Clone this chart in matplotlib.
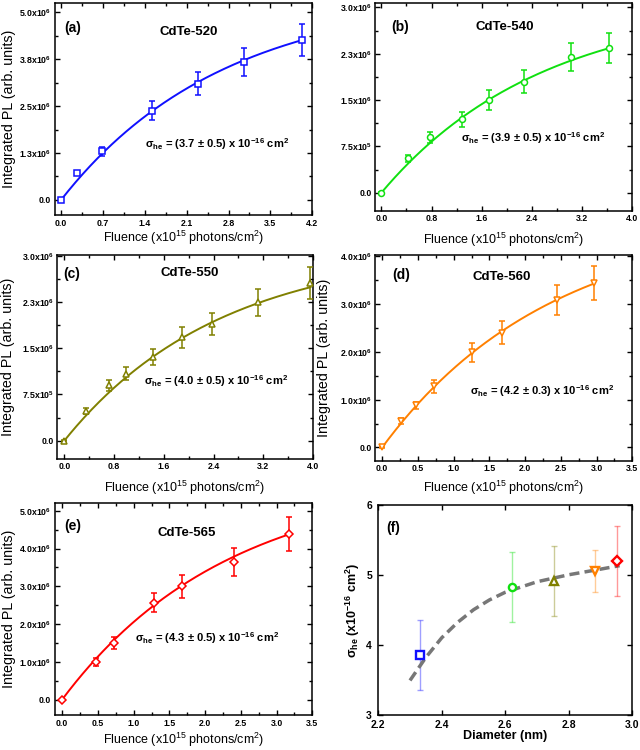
import matplotlib
matplotlib.use("Agg")
import matplotlib.pyplot as plt
import numpy as np
from matplotlib.ticker import AutoMinorLocator

plt.rcParams["font.family"] = ["Liberation Sans", "DejaVu Sans"]
plt.rcParams["mathtext.default"] = "regular"

BLUE, GREEN, OLIVE, ORANGE, RED = "#1010ff", "#10e010", "#808000", "#ff8000", "#ff0000"

# ── data (PL in units of 1e6, fluence in 1e15 photons/cm^2) ──
a_flu = [0, 0.27, 0.69, 1.52, 2.29, 3.06, 4.02]
a_pl = [0, 0.73, 1.29, 2.38, 3.09, 3.68, 4.25]
a_err = [0.02, 0.05, 0.13, 0.25, 0.31, 0.37, 0.43]

b_flu = [0, 0.43, 0.78, 1.29, 1.72, 2.27, 3.03, 3.63]
b_pl = [0, 0.556, 0.896, 1.19, 1.50, 1.80, 2.20, 2.34]
b_err = [0.01, 0.05, 0.09, 0.12, 0.16, 0.18, 0.23, 0.24]

c_flu = [0, 0.34, 0.72, 0.99, 1.42, 1.90, 2.37, 3.11, 3.96]
c_pl = [0, 0.487, 0.903, 1.09, 1.36, 1.68, 1.90, 2.25, 2.56]
c_err = [0.01, 0.05, 0.09, 0.11, 0.13, 0.17, 0.18, 0.22, 0.26]

d_flu = [0, 0.26, 0.47, 0.73, 1.25, 1.67, 2.45, 2.97]
d_pl = [0, 0.56, 0.88, 1.28, 1.99, 2.40, 3.09, 3.44]
d_err = [0.01, 0.06, 0.08, 0.14, 0.20, 0.24, 0.32, 0.35]

e_flu = [0, 0.48, 0.73, 1.29, 1.67, 2.41, 3.18]
e_pl = [0, 1.00, 1.50, 2.57, 3.00, 3.65, 4.38]
e_err = [0.01, 0.10, 0.15, 0.26, 0.30, 0.37, 0.45]

# saturation fits I = A (1 - exp(-sigma F)), sigma in 1e-16 cm^2 (x F in 1e15 -> /10)
fit_amp = [5.49, 3.09, 3.14, 4.82, 5.88]
fit_sigma = [3.7, 3.9, 4.0, 4.2, 4.3]
sigma_err = [0.5, 0.5, 0.5, 0.3, 0.5]
names = ["CdTe-520", "CdTe-540", "CdTe-550", "CdTe-560", "CdTe-565"]

# panel (f)
f_diam = [2.33, 2.62, 2.753, 2.883, 2.953]
f_sig = [3.85, 4.82, 4.91, 5.05, 5.19]
f_err = [0.5, 0.5, 0.5, 0.3, 0.5]
f_curve_d = [2.30, 2.35, 2.40, 2.45, 2.50, 2.55, 2.60, 2.70, 2.80, 2.90, 2.96]
f_curve_s = [3.49, 3.82, 4.10, 4.32, 4.50, 4.64, 4.75, 4.90, 5.00, 5.08, 5.13]

# tick labels
a_yt = [0, 1.25, 2.5, 3.75, 5.0]
a_ytl = ["0.0", r"1.3x10$^6$", r"2.5x10$^6$", r"3.8x10$^6$", r"5.0x10$^6$"]
a_xt = [0, 0.7, 1.4, 2.1, 2.8, 3.5, 4.2]
bc_yt = [0, 0.75, 1.5, 2.25, 3.0]
bc_ytl = ["0.0", r"7.5x10$^5$", r"1.5x10$^6$", r"2.3x10$^6$", r"3.0x10$^6$"]
bc_xt = [0, 0.8, 1.6, 2.4, 3.2, 4.0]
d_yt = [0, 1, 2, 3, 4]
d_ytl = ["0.0", r"1.0x10$^6$", r"2.0x10$^6$", r"3.0x10$^6$", r"4.0x10$^6$"]
de_xt = [0, 0.5, 1.0, 1.5, 2.0, 2.5, 3.0, 3.5]
e_yt = [0, 1, 2, 3, 4, 5]
e_ytl = ["0.0", r"1.0x10$^6$", r"2.0x10$^6$", r"3.0x10$^6$", r"4.0x10$^6$", r"5.0x10$^6$"]
f_xt = [2.2, 2.4, 2.6, 2.8, 3.0]
f_yt = [3, 4, 5, 6]

XLAB = r"Fluence (x10$^{15}$ photons/cm$^2$)"
YLAB = "Integrated PL (arb. units)"

fig = plt.figure(figsize=(6.4, 7.5), dpi=100)


def style_ax(ax, tick_fs=6.3, minor=True, pad=3):
    for s in ax.spines.values():
        s.set_linewidth(1.1)
    ax.tick_params(which="both", direction="in", top=True, right=True,
                   labelsize=tick_fs, width=1.0, pad=pad)
    ax.tick_params(which="major", length=3.5)
    ax.tick_params(which="minor", length=2)
    if minor:
        ax.xaxis.set_minor_locator(AutoMinorLocator(2))
        ax.yaxis.set_minor_locator(AutoMinorLocator(2))
    for t in ax.get_xticklabels() + ax.get_yticklabels():
        t.set_fontweight("bold")


def pl_panel(rect, i, flu, pl, err, color, marker, xt, yt, ytl, xlim, ylim,
             tag, tag_xy, name_xy, sig_xy, ylab_x, xlab_y, ylabel=True, pad=3):
    ax = fig.add_axes(rect)
    F = np.linspace(0, flu[-1], 200)
    ax.plot(F, fit_amp[i] * (1 - np.exp(-fit_sigma[i] / 10 * F)), color=color, lw=1.4, zorder=2)
    ax.errorbar(flu, pl, yerr=err, fmt=marker, color=color, mfc="white", mec=color,
                ms=4.3, mew=1.1, elinewidth=1.1, capsize=2.3, capthick=1.1, zorder=3)
    ax.set_xlim(*xlim)
    ax.set_ylim(*ylim)
    ax.set_xticks(xt)
    ax.set_xticklabels([f"{v:.1f}" for v in xt])
    ax.set_yticks(yt)
    ax.set_yticklabels(ytl)
    style_ax(ax, pad=pad)
    ax.text(*tag_xy, tag, transform=ax.transAxes, fontsize=10, fontweight="bold",
            ha="center", va="center")
    ax.text(*name_xy, names[i], transform=ax.transAxes, fontsize=9.5, fontweight="bold",
            ha="center", va="center")
    ax.text(*sig_xy, r"$\sigma_{he}$ = (%.1f ± %.1f) x 10$^{-16}$ cm$^2$" % (fit_sigma[i], sigma_err[i]),
            transform=ax.transAxes, fontsize=8, fontweight="bold", ha="center", va="center")
    ax.set_xlabel(XLAB, fontsize=9)
    ax.xaxis.set_label_coords(0.5, xlab_y)
    ax.xaxis.label.set_va("center")
    if ylabel:
        ax.set_ylabel(YLAB, fontsize=10.3)
        ax.yaxis.set_label_coords(ylab_x, 0.5)
        ax.yaxis.label.set_va("center")
    return ax


pl_panel([0.086, 0.7133, 0.402, 0.2827], 0, a_flu, a_pl, a_err, BLUE, "s",
         a_xt, a_yt, a_ytl, (-0.1, 4.2), (-0.4, 5.24), "(a)",
         (0.07, 0.884), (0.518, 0.865), (0.63, 0.335), -0.18, -0.108)
pl_panel([0.586, 0.719, 0.402, 0.277], 1, b_flu, b_pl, b_err, GREEN, "o",
         bc_xt, bc_yt, bc_ytl, (-0.1, 4.0), (-0.29, 3.07), "(b)",
         (0.097, 0.885), (0.506, 0.885), (0.615, 0.351), -0.2, -0.14,
         ylabel=False, pad=2.2)
pl_panel([0.089, 0.388, 0.400, 0.272], 2, c_flu, c_pl, c_err, OLIVE, "^",
         bc_xt, bc_yt, bc_ytl, (-0.12, 4.0), (-0.3, 3.02), "(c)",
         (0.058, 0.906), (0.518, 0.91), (0.623, 0.38), -0.19, -0.142, pad=2.2)
pl_panel([0.586, 0.385, 0.402, 0.275], 3, d_flu, d_pl, d_err, ORANGE, "v",
         de_xt, d_yt, d_ytl, (-0.1, 3.5), (-0.29, 4.03), "(d)",
         (0.101, 0.903), (0.494, 0.893), (0.65, 0.34), -0.2, -0.131, pad=2.2)
pl_panel([0.086, 0.0467, 0.402, 0.2827], 4, e_flu, e_pl, e_err, RED, "D",
         de_xt, e_yt, e_ytl, (-0.1, 3.5), (-0.41, 5.21), "(e)",
         (0.07, 0.893), (0.51, 0.86), (0.59, 0.363), -0.18, -0.118)

# ── (f) sigma vs diameter ──
ax = fig.add_axes([0.591, 0.047, 0.397, 0.28])
ax.plot(f_curve_d, f_curve_s, color="#777777", lw=2.5, dashes=(2.9, 1.5), zorder=2)
cols = [BLUE, GREEN, OLIVE, ORANGE, RED]
marks = ["s", "o", "^", "v", "D"]
for d, s, e, c, m in zip(f_diam, f_sig, f_err, cols, marks):
    ax.errorbar([d], [s], yerr=[e], fmt="none", ecolor=c, alpha=0.4,
                elinewidth=1.0, capsize=2.2, capthick=1.0, zorder=1)
    ax.plot([d], [s], marker=m, ms=5.2, mfc="white", mec=c, mew=1.7, ls="none", zorder=3)
ax.set_xlim(2.2, 3.0)
ax.set_ylim(3, 6)
ax.set_xticks(f_xt)
ax.set_yticks(f_yt)
style_ax(ax, tick_fs=7.5, minor=False, pad=1.5)
ax.tick_params(axis="y", pad=4.5)
ax.tick_params(axis="x", pad=3.5)
ax.text(0.06, 0.89, "(f)", transform=ax.transAxes, fontsize=10, fontweight="bold",
        ha="center", va="center")
ax.set_xlabel("Diameter (nm)", fontsize=9, fontweight="bold")
ax.xaxis.set_label_coords(0.5, -0.1)
ax.xaxis.label.set_va("center")
ax.set_ylabel(r"$\sigma_{he}$ (x10$^{-16}$ cm$^2$)", fontsize=9, fontweight="bold")
ax.yaxis.set_label_coords(-0.1, 0.5)
ax.yaxis.label.set_va("center")

fig.savefig("out.png", dpi=100, facecolor="white")
